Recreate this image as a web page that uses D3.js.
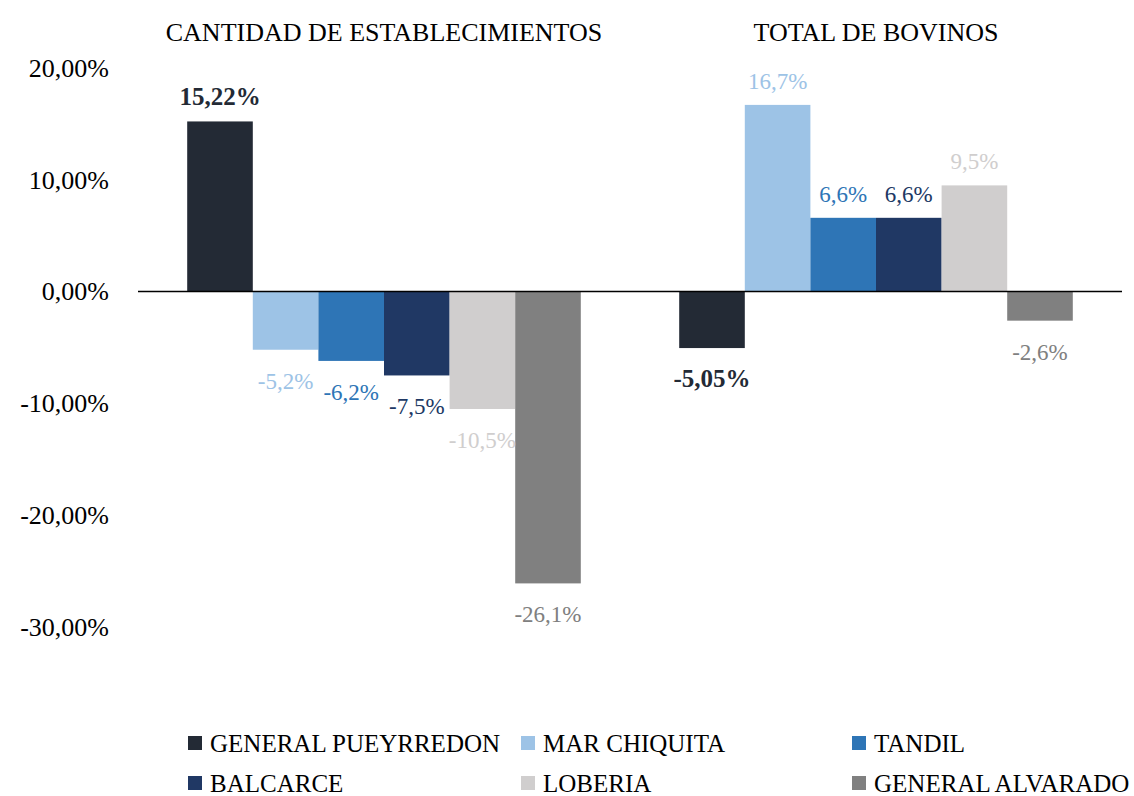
<!DOCTYPE html>
<html>
<head>
<meta charset="utf-8">
<script src="https://cdn.jsdelivr.net/npm/d3@7"></script>
<style>
  body { margin: 0; background: #fff; }
  svg { display: block; }
  text { font-family: "Liberation Serif", "DejaVu Serif", serif; }
</style>
</head>
<body>
<svg id="chart" width="1134" height="796"></svg>
<script>
// data
var groups = ["CANTIDAD DE ESTABLECIMIENTOS", "TOTAL DE BOVINOS"];
var series = ["GENERAL PUEYRREDON", "MAR CHIQUITA", "TANDIL", "BALCARCE", "LOBERIA", "GENERAL ALVARADO"];
var establecimientos = [15.22, -5.2, -6.2, -7.5, -10.5, -26.1];
var bovinos = [-5.05, 16.7, 6.6, 6.6, 9.5, -2.6];
var yTicks = [20, 10, 0, -10, -20, -30];
var colors = ["#232a35", "#9dc3e6", "#2e75b6", "#203864", "#d0cece", "#808080"];

var values = [establecimientos, bovinos];

var svg = d3.select("#chart");
var mLeft = 138, mRight = 1122, mTop = 68, mBottom = 627;

var x0 = d3.scaleBand().domain(groups).range([mLeft, mRight])
    .paddingInner(0.2).paddingOuter(0.1);
var x1 = d3.scaleBand().domain(series).range([0, x0.bandwidth()]);
var y = d3.scaleLinear().domain([-30, 20]).range([mBottom, mTop]);

function fmt(v, i) {
  var s = i == 0 ? v.toFixed(2) : v.toFixed(1);
  return s.replace(".", ",") + "%";
}

// y tick labels, no axis line
var yAxis = svg.append("g")
    .attr("transform", "translate(" + (mLeft - 26) + ",0)")
    .call(d3.axisLeft(y).tickValues(yTicks).tickSize(0)
      .tickFormat(function(d) { return d.toFixed(2).replace(".", ",") + "%"; }));
yAxis.select(".domain").remove();
yAxis.selectAll("text")
    .style("font-family", "Liberation Serif, serif")
    .style("font-size", "26px")
    .attr("fill", "#000");

// group titles
svg.selectAll(".gtitle")
  .data(groups)
  .enter().append("text")
    .attr("class", "gtitle")
    .attr("x", function(d) { return x0(d) + x0.bandwidth() / 2; })
    .attr("y", 41)
    .attr("text-anchor", "middle")
    .style("font-size", "26px")
    .attr("fill", "#000")
    .text(function(d) { return d; });

var g = svg.selectAll(".grp")
  .data(groups)
  .enter().append("g")
    .attr("class", "grp")
    .attr("transform", function(d) { return "translate(" + x0(d) + ",0)"; });

g.selectAll("rect")
  .data(function(d, gi) { return values[gi]; })
  .enter().append("rect")
    .attr("x", function(d, i) { return x1(series[i]); })
    .attr("y", function(d) { return y(Math.max(0, d)); })
    .attr("width", x1.bandwidth())
    .attr("height", function(d) { return Math.abs(y(d) - y(0)); })
    .attr("fill", function(d, i) { return colors[i]; });

g.selectAll(".lbl")
  .data(function(d, gi) { return values[gi]; })
  .enter().append("text")
    .attr("class", "lbl")
    .attr("x", function(d, i) { return x1(series[i]) + x1.bandwidth() / 2; })
    .attr("y", function(d) { return d >= 0 ? y(d) - 16 : y(d) + 39; })
    .attr("text-anchor", "middle")
    .style("font-size", function(d, i) { return i == 0 ? "25px" : "23px"; })
    .style("font-weight", function(d, i) { return i == 0 ? "bold" : "normal"; })
    .attr("fill", function(d, i) { return colors[i]; })
    .text(function(d, i) { return fmt(d, i); });

// zero line
svg.append("line")
    .attr("x1", mLeft).attr("x2", mRight)
    .attr("y1", y(0)).attr("y2", y(0))
    .attr("stroke", "#000").attr("stroke-width", 1.5);

// legend
var legX = [188, 521, 852], legY = [743, 783];
var leg = svg.selectAll(".leg")
  .data(series)
  .enter().append("g")
    .attr("class", "leg")
    .attr("transform", function(d, i) {
      return "translate(" + legX[i % 3] + "," + legY[Math.floor(i / 3)] + ")";
    });
leg.append("rect")
    .attr("x", 0).attr("y", -7)
    .attr("width", 14).attr("height", 14)
    .attr("fill", function(d, i) { return colors[i]; });
leg.append("text")
    .attr("x", 22).attr("y", 9)
    .style("font-size", "25px")
    .attr("fill", "#000")
    .text(function(d) { return d; });
</script>
</body>
</html>
